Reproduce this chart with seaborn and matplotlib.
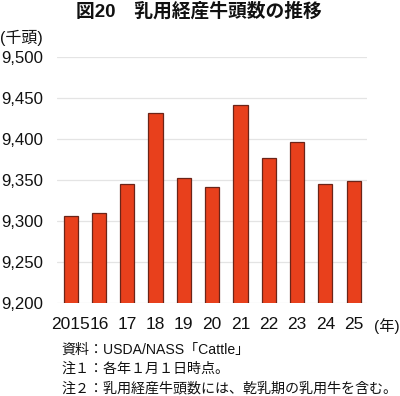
import matplotlib
matplotlib.use("Agg")
import matplotlib.pyplot as plt
import seaborn as sns
import pandas as pd

years = ["2015", "16", "17", "18", "19", "20", "21", "22", "23", "24", "25"]
cows = [9307, 9310, 9346, 9432, 9353, 9342, 9442, 9377, 9397, 9346, 9349]
yticks = [9200, 9250, 9300, 9350, 9400, 9450, 9500]
ytick_labels = ["9,200", "9,250", "9,300", "9,350", "9,400", "9,450", "9,500"]
title = "図20　乳用経産牛頭数の推移"
y_unit = "(千頭)"
x_unit = "(年)"
notes = ["資料：USDA/NASS「Cattle」",
         "注１：各年１月１日時点。",
         "注２：乳用経産牛頭数には、乾乳期の乳用牛を含む。"]

sns.set_theme(style="white")
plt.rcParams["font.family"] = ["Liberation Sans", "Noto Sans CJK JP", "DejaVu Sans"]

df = pd.DataFrame({"year": years, "cows": cows})

fig = plt.figure(figsize=(4.0, 3.96), dpi=100)
ax = fig.add_axes([0.1425, 0.234, 0.775, 0.621])

sns.barplot(data=df, x="year", y="cows", color="#E8401C", width=0.5,
            edgecolor="#6b2418", linewidth=0.9, saturation=1, ax=ax, zorder=3)

ax.set_ylim(9200, 9500)
ax.set_xlim(-0.48, 10.47)
ax.set_yticks(yticks)
ax.set_yticklabels(ytick_labels, fontsize=12.1, color="#111111")
ax.grid(axis="y", color="#e4e4e4", linewidth=0.9, zorder=0)
ax.set_axisbelow(True)
for s in ax.spines.values():
    s.set_visible(False)
ax.tick_params(axis="both", length=0)
ax.tick_params(axis="y", pad=10)
ax.tick_params(axis="x", pad=10, labelsize=12.5, labelcolor="#111111")
ax.set_xlabel("")
ax.set_ylabel("")

fig.text(0.4975, 1 - 11/396, title, ha="center", va="center",
         fontsize=13.5, fontweight="bold", color="#111111")
fig.text(0.0, 1 - 38/396, y_unit, ha="left", va="center", fontsize=11.5, color="#111111")
fig.text(374/400, 1 - 326/396, x_unit, ha="left", va="center", fontsize=11, color="#111111")
for i, n in enumerate(notes):
    fig.text(61/400, 1 - (350 + 19*i)/396, n, ha="left", va="center",
             fontsize=10.1, color="#111111")

fig.savefig("out.png", dpi=100)
